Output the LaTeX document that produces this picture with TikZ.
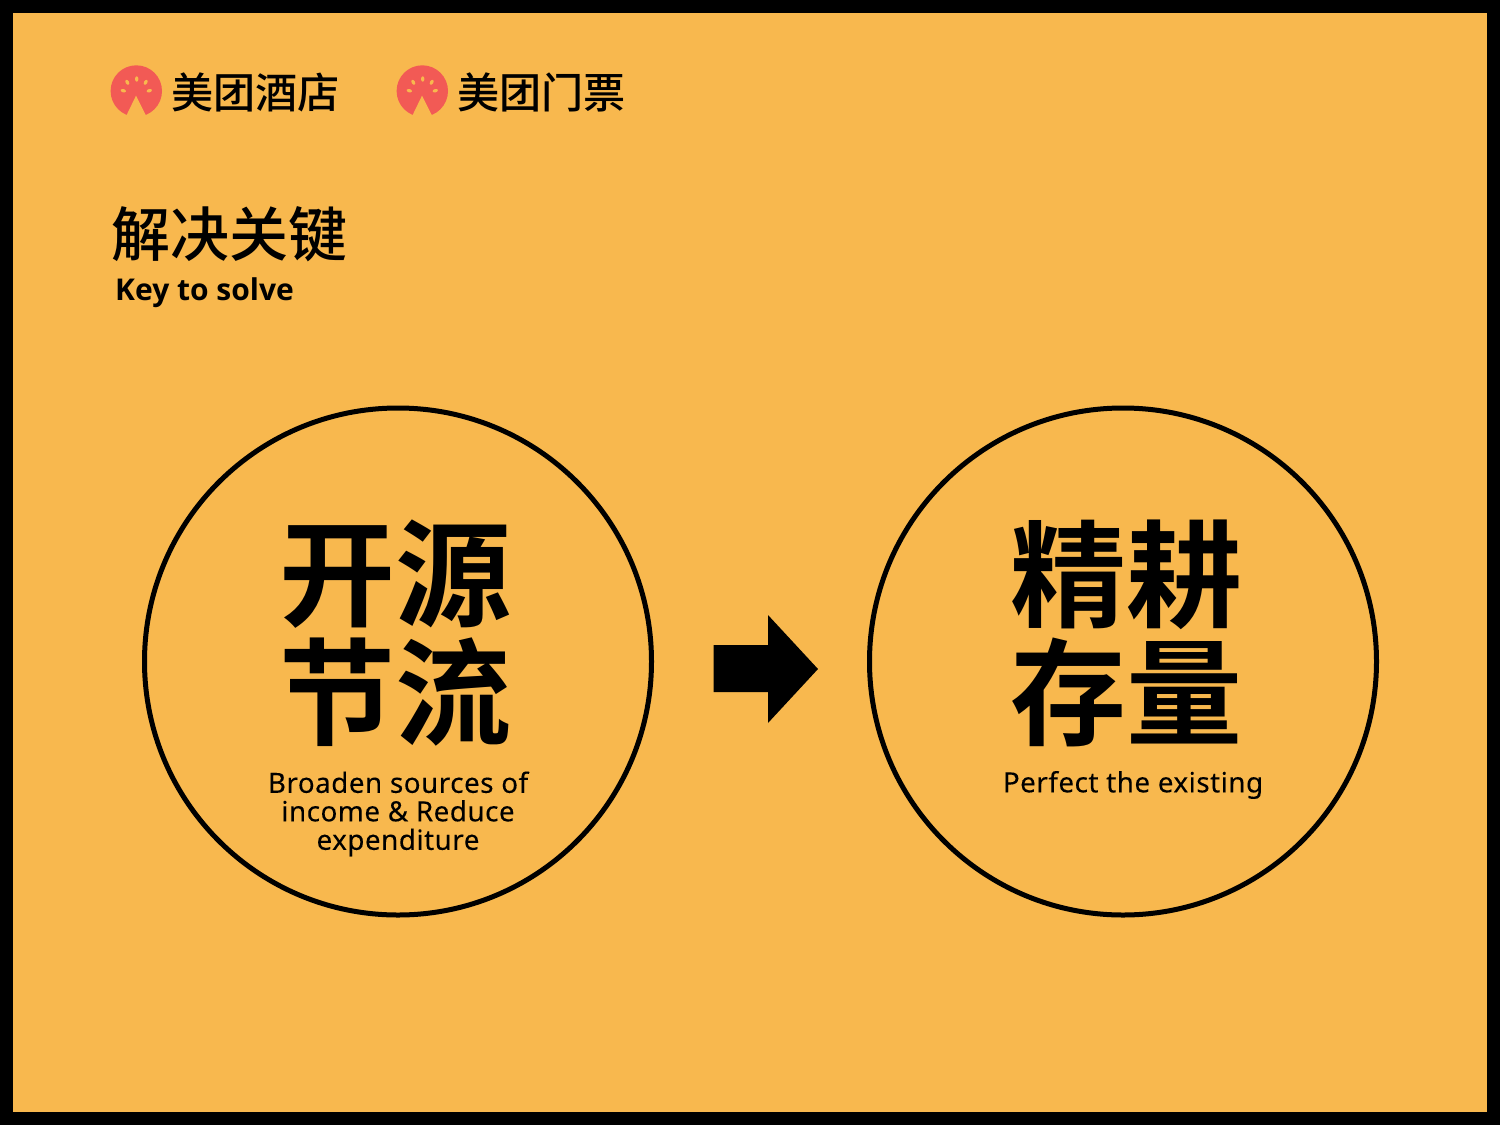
\documentclass[tikz,border=0pt]{standalone}
\usepackage{fontspec}
\setmainfont[LetterSpace=1.8,FakeBold=0.15]{Noto Sans}
\newfontfamily\ensemi{Open Sans}
\newfontfamily\cjkbold{Noto Sans CJK SC Bold}
\newfontfamily\cjkmed{Noto Sans CJK SC Medium}
\definecolor{bgc}{HTML}{F8B84E}
\definecolor{logored}{HTML}{F25A55}
\tikzset{
  bigcirc/.style={circle,draw=black,line width=5pt,minimum size=507pt,inner sep=0pt},
  bigtext/.style={inner sep=0pt,font=\fontsize{116}{116}\selectfont\cjkbold},
  subtext/.style={inner sep=0pt,align=center,font=\fontsize{27.8}{28.5}\selectfont},
  logotext/.style={inner sep=0pt,anchor=west,font=\fontsize{42.1}{42}\selectfont\cjkmed},
  logodotst/.style={fill=bgc,draw=none}
}
\newcommand{\mlogo}[2]{%
  \begin{scope}[shift={(#1,#2)}]
    \fill[logored] (0,0) circle (25.7);
    \fill[bgc] (-0.3,4.7) -- (-14,33) -- (14,33) -- cycle;
    \fill[logodotst,rotate around={90:(0.4,-12)}] (0.4,-12) ellipse (2.7 and 1.7);
    \fill[logodotst,rotate around={-60:(-9,-8.7)}] (-9,-8.7) ellipse (2.7 and 1.7);
    \fill[logodotst,rotate around={60:(9.4,-8.7)}] (9.4,-8.7) ellipse (2.7 and 1.7);
    \fill[logodotst,rotate around={-15:(-13,-0.3)}] (-13,-0.3) ellipse (2.7 and 1.7);
    \fill[logodotst,rotate around={15:(13,-0.3)}] (13,-0.3) ellipse (2.7 and 1.7);
  \end{scope}}
\begin{document}
\begin{tikzpicture}[x=1pt,y=-1pt]
\useasboundingbox (0,0) rectangle (1500,1125);
\fill[black] (0,0) rectangle (1500,1125);
\fill[bgc] (13,13) rectangle (1487,1112);
\mlogo{136.3}{91}
\mlogo{422.3}{91}
\node[logotext] (hotel) at (171,92.5) {美团酒店};
\node[logotext] (ticket) at (457,92.5) {美团门票};
\node[inner sep=0pt,anchor=west,font=\fontsize{59}{59}\selectfont\cjkmed] (title) at (111,234) {解决关键};
\node[inner sep=0pt,anchor=west,font=\fontsize{30}{30}\selectfont\ensemi\bfseries] (titleen) at (115,293) {Key to solve};
\node[bigcirc] (left) at (398,661.5) {};
\node[bigcirc] (right) at (1123,661.5) {};
\node[bigtext] (k1) at (395,574.5) {开源};
\node[bigtext] (k2) at (395,692.5) {节流};
\node[bigtext] (j1) at (1126,574.5) {精耕};
\node[bigtext] (j2) at (1126,692.5) {存量};
\node[subtext] (lsub) at (398,814) {Broaden sources of\\income \& Reduce\\expenditure};
\node[subtext] (rsub) at (1133,785) {Perfect the existing};
\fill[black] (713.5,645) -- (768,645) -- (768,615) -- (818,669) -- (768,723) -- (768,692) -- (713.5,692) -- cycle;
\end{tikzpicture}
\end{document}
